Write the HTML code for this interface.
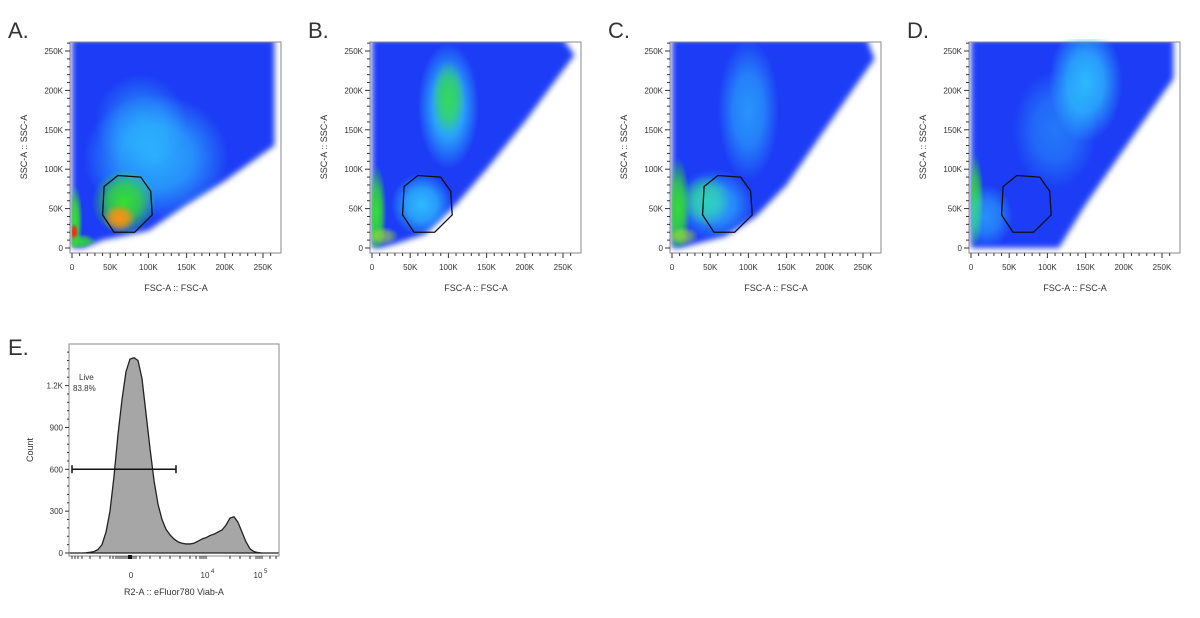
<!DOCTYPE html>
<html><head><meta charset="utf-8">
<style>
html,body{margin:0;padding:0;background:#fff;width:1200px;height:618px;overflow:hidden;font-family:"Liberation Sans",sans-serif}
svg text{font-family:"Liberation Sans",sans-serif;fill:#333}
</style></head>
<body>
<svg id="chart" width="1200" height="618" xmlns="http://www.w3.org/2000/svg">
<defs id="defs">
<filter id="blurS" x="-20%" y="-20%" width="140%" height="140%"><feGaussianBlur stdDeviation="3"/></filter>
</defs>
</svg>
<script>
// ---- scatter panel data (values in K units) ----
const panelLetters = ["A.","B.","C.","D."];
const panelOffsets = [70,370,670,969];
const axisTicks = [0,50,100,150,200,250];
const axisTickLabels = ["0","50K","100K","150K","200K","250K"];
const gateX = [60,90,103,105,82,55,40,42];
const gateY = [92,90,72,42,20,20,42,78];
const coverA = [[0,0],[0,265],[265,265],[265,130],[200,85],[150,55],[100,22],[40,10],[15,0]];
const coverB = [[0,0],[0,265],[250,265],[265,245],[200,160],[150,100],[110,55],[70,18],[30,5],[10,0]];
const coverC = [[0,0],[0,265],[255,265],[265,240],[200,150],[150,80],[110,40],[70,15],[30,5],[10,0]];
const coverD = [[0,0],[0,265],[265,265],[265,215],[200,125],[150,55],[115,0]];
const blobsA = [[110,115,95,80,"cyan",0.75],[90,160,60,60,"cyan",0.45],[68,58,42,42,"green",1],[62,38,22,18,"orange",1],[4,35,10,45,"green",1],[3,20,5,12,"red",1],[12,8,20,10,"green",0.9]];
const blobsB = [[100,180,40,80,"cyan",0.9],[100,190,22,48,"green",0.8],[65,55,40,40,"cyan",0.85],[6,45,13,60,"green",1],[15,15,20,12,"yellow",0.6]];
const blobsC = [[100,175,40,90,"cyan",0.6],[45,60,32,32,"green",0.9],[55,55,52,45,"cyan",0.7],[8,50,16,65,"green",1],[15,15,20,12,"yellow",0.6]];
const blobsD = [[150,210,48,75,"cyan",0.85],[110,150,55,75,"cyan",0.4],[5,60,12,60,"green",0.9],[20,40,35,40,"cyan",0.55]];
const covers = [coverA,coverB,coverC,coverD];
const blobs = [blobsA,blobsB,blobsC,blobsD];
// ---- histogram data ----
const histChannel = [0,1,2,3,4,5,6,7,8,9,10,11,12,13,14,15,16,17,18,19,20,21,22,23,24,25,26,27,28,29,30,31,32,33,34,35,36,37,38,39,40,41,42,43,44,45,46,47,48,49,50,51,52];
const histCounts = [0,0,0,0,2,5,10,25,60,150,300,550,850,1100,1300,1390,1400,1380,1250,1000,750,520,350,240,170,130,100,80,70,65,65,70,85,100,110,125,135,150,165,200,250,260,220,150,80,30,10,3,0,0,0,0,0];
const countTicks = [0,300,600,900,1200];
const countTickLabels = ["0","300","600","900","1.2K"];
const gateCount = 600;

const svg = document.getElementById('chart');
const defs = document.getElementById('defs');
const NS = "http://www.w3.org/2000/svg";
function mk(tag, attrs, parent){const e=document.createElementNS(NS,tag);for(const k in attrs)e.setAttribute(k,attrs[k]);(parent||svg).appendChild(e);return e;}
const colors={cyan:"#30d0ff",green:"#35e030",orange:"#ff9010",red:"#ff2000",yellow:"#b8f020"};
for(const c in colors){
  const rg=mk('radialGradient',{id:'rg-'+c},defs);
  mk('stop',{offset:'0','stop-color':colors[c],'stop-opacity':1},rg);
  mk('stop',{offset:'0.5','stop-color':colors[c],'stop-opacity':0.75},rg);
  mk('stop',{offset:'1','stop-color':colors[c],'stop-opacity':0},rg);
}

const top0=42, bot0=253;
panelOffsets.forEach((ox,i)=>{
  const X=v=>ox+2+v*0.764, Y=v=>248-v*0.788;
  const g=mk('g',{});
  
  
  const lt=mk('text',{x:ox-62,y:38,'font-size':22},g); lt.textContent=panelLetters[i];
  
  
  const cp=mk('clipPath',{id:'pc'+i},defs);
  mk('rect',{x:ox,y:top0,width:211,height:bot0-top0},cp);
  const cc=mk('clipPath',{id:'cc'+i},defs);
  const pts=covers[i].map(p=>X(p[0])+','+Y(p[1])).join(' ');
  mk('polygon',{points:pts},cc);
  const inner=mk('g',{'clip-path':'url(#pc'+i+')'},g);
  const base=mk('polygon',{points:pts,fill:'#1f3cf5',filter:'url(#blurS)'},inner);
  
  
  const inner2=mk('g',{'clip-path':'url(#cc'+i+')'},g);
  blobs[i].forEach(b=>{
    const e=mk('ellipse',{cx:X(b[0]),cy:Y(b[1]),rx:b[2]*0.764,ry:b[3]*0.788,fill:'url(#rg-'+b[4]+')',opacity:b[5]},inner2);
    
    
  });
  const gp=mk('polygon',{points:gateX.map((x,k)=>X(x)+','+Y(gateY[k])).join(' '),fill:'none',stroke:'#111','stroke-width':1.3},g);
  
  
  mk('rect',{x:ox,y:top0,width:211,height:211,fill:'none',stroke:'#888','stroke-width':1},g);
  axisTicks.forEach((t,k)=>{
    mk('line',{x1:X(t),x2:X(t),y1:bot0,y2:bot0+5,stroke:'#333'},g);
    mk('line',{x1:ox-5,x2:ox,y1:Y(t),y2:Y(t),stroke:'#333'},g);
    const tx=mk('text',{x:X(t),y:bot0+17,'font-size':8,'text-anchor':'middle'},g); tx.textContent=axisTickLabels[k];
    
    
    const ty=mk('text',{x:ox-7,y:Y(t)+3,'font-size':8,'text-anchor':'end'},g); ty.textContent=axisTickLabels[k];
    
    
  });
  for(let t=10;t<265;t+=10){ if(t%50){mk('line',{x1:X(t),x2:X(t),y1:bot0,y2:bot0+3,stroke:'#333'},g);mk('line',{x1:ox-3,x2:ox,y1:Y(t),y2:Y(t),stroke:'#333'},g);} }
  const xt=mk('text',{x:ox+106,y:291,'font-size':9,'text-anchor':'middle'},g); xt.textContent='FSC-A :: FSC-A';
  
  
  const yt=mk('text',{x:0,y:0,'font-size':9,'text-anchor':'middle',transform:`translate(${ox-43},147) rotate(-90)`},g); yt.textContent='SSC-A :: SSC-A';
  
  
});

// histogram panel E
(function(){
  const ox=69, oy=344, w=210, h=212;
  const X=c=>70+c*4, Y=v=>553-v*0.1395;
  const g=mk('g',{});
  
  
  const lt=mk('text',{x:8,y:355,'font-size':22},g); lt.textContent='E.';
  
  
  mk('rect',{x:ox,y:oy,width:w,height:h,fill:'none',stroke:'#888'},g);
  let d='M'+X(histChannel[0])+','+Y(0);
  histChannel.forEach((c,k)=>{d+=' L'+X(c)+','+Y(histCounts[k]);});
  d+=' L'+X(histChannel[histChannel.length-1])+','+Y(0)+' Z';
  const area=mk('path',{d:d,fill:'#a6a6a6',stroke:'#222','stroke-width':1.3,'stroke-linejoin':'round'},g);
  
  
  countTicks.forEach((t,k)=>{
    mk('line',{x1:ox-4,x2:ox,y1:Y(t),y2:Y(t),stroke:'#333'},g);
    const ty=mk('text',{x:ox-6,y:Y(t)+3,'font-size':8,'text-anchor':'end'},g); ty.textContent=countTickLabels[k];
    
    
  });
  for(let t=60;t<1450;t+=60){ if(t%300) mk('line',{x1:ox-2,x2:ox,y1:Y(t),y2:Y(t),stroke:'#333'},g); }
  [72,75,78,82,90,100,110,113,116,118,120,122,124,126,128,130,132,134,136,140,150,160,170,180,190,196,200,202,204,206,230,240,250,256,258,260,262,270,276].forEach(x=>mk('line',{x1:x,x2:x,y1:556,y2:559,stroke:'#333'},g));
  mk('rect',{x:128,y:555,width:4,height:4,fill:'#111'},g);
  [[131,"0",""],[205,"10","4"],[258,"10","5"]].forEach(a=>{
    const t=mk('text',{x:a[0],y:578,'font-size':8,'text-anchor':'middle'},g);
    t.textContent=a[1];
    
    
    if(a[2]){const s=mk('text',{x:a[0]+6,y:573,'font-size':6},g);s.textContent=a[2];}
  });
  const gy=Y(gateCount);
  const gl=mk('path',{d:`M72,${gy} L176,${gy} M72,${gy-4} L72,${gy+4} M176,${gy-4} L176,${gy+4}`,stroke:'#111','stroke-width':1.5,fill:'none'},g);
  
  
  const l1=mk('text',{x:79,y:380,'font-size':8},g); l1.textContent='Live';
  
  
  const l2=mk('text',{x:73,y:391,'font-size':8},g); l2.textContent='83.8%';
  
  
  const xt=mk('text',{x:174,y:595,'font-size':9,'text-anchor':'middle'},g); xt.textContent='R2-A :: eFluor780 Viab-A';
  
  
  const yt=mk('text',{x:0,y:0,'font-size':9,'text-anchor':'middle',transform:'translate(33,450) rotate(-90)'},g); yt.textContent='Count';
  
  
})();
</script>
</body></html>
